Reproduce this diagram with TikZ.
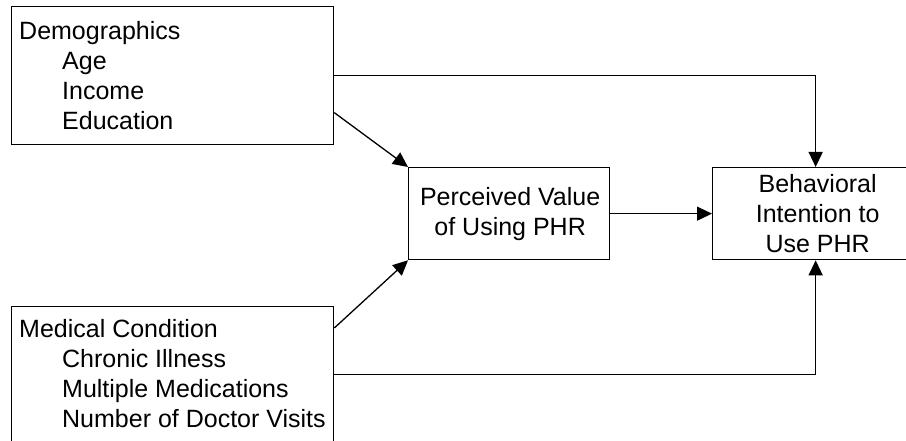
\documentclass[tikz,border=0pt]{standalone}
\usepackage{fontspec}
\setmainfont{Liberation Sans}
\usetikzlibrary{arrows.meta}
\begin{document}
\begin{tikzpicture}[x=1pt,y=-1pt,
  box/.style={draw=black,line width=1.3pt,anchor=north west,inner sep=0pt},
  txt/.style={font=\fontsize{25}{30}\selectfont,inner sep=0pt},
  arr/.style={draw=black,line width=1.3pt,-{Triangle[length=15pt,width=14pt]}}]
\useasboundingbox (0,0) rectangle (906,441);
\clip (0,0) rectangle (906,441);
\node[box,minimum width=322pt,minimum height=138pt] (demo) at (11,6) {};
\node[box,minimum width=322pt,minimum height=136pt] (med) at (11,306) {};
\node[box,minimum width=201pt,minimum height=92pt] (perc) at (408,167) {};
\node[box,minimum width=210pt,minimum height=92pt] (beh) at (712,167) {};
\node[txt,align=left,anchor=north west] (demotxt) at (19,21.3) {Demographics\\\hspace{43pt}Age\\\hspace{43pt}Income\\\hspace{43pt}Education};
\node[txt,align=left,anchor=north west] (medtxt) at (19,318.8) {Medical Condition\\\hspace{43pt}Chronic Illness\\\hspace{43pt}Multiple Medications\\\hspace{43pt}Number of Doctor Visits};
\node[txt,align=center] (perctxt) at ([xshift=1pt]perc.center) {Perceived Value\\of Using PHR};
\node[txt,align=center] (behtxt) at (beh.center) {Behavioral\\Intention to\\Use PHR};
\draw[arr] (demo.east) -| ([xshift=-2pt]beh.north);
\draw[arr] (med.east) -| ([xshift=-2pt]beh.south);
\draw[arr] ([yshift=-37pt]demo.east) -- (perc.north west);
\draw[arr] ([yshift=-22pt]med.north east) -- (perc.south west);
\draw[arr] (perc.east) -- (beh.west);
\end{tikzpicture}
\end{document}
